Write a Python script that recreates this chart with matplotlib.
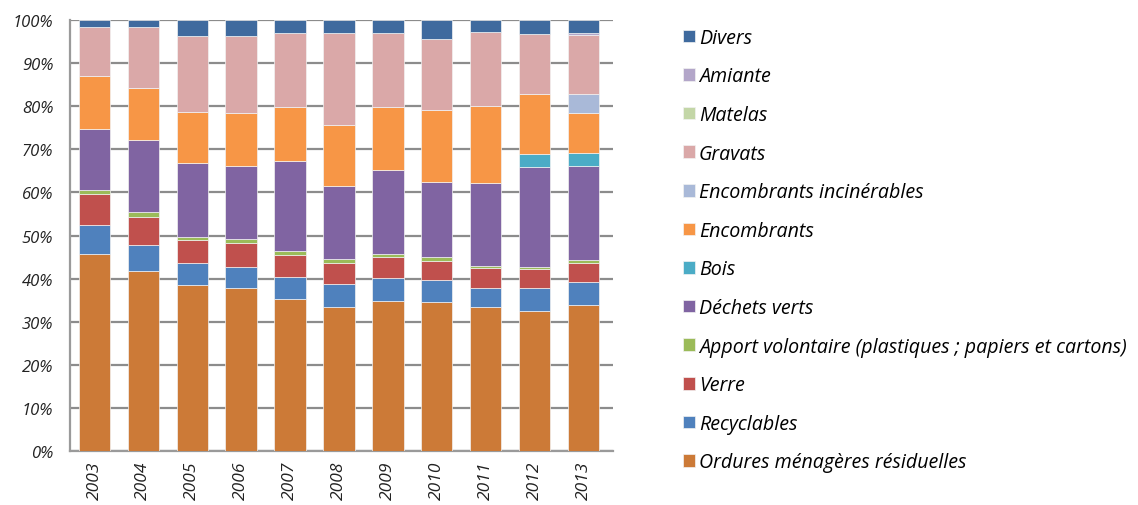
import matplotlib
matplotlib.use("Agg")
import matplotlib.pyplot as plt
import numpy as np

years = ["2003", "2004", "2005", "2006", "2007", "2008", "2009", "2010", "2011", "2012", "2013"]

# Share of each waste stream per year (%), bottom to top of the stack
ordures = [45.8, 41.8, 38.6, 37.9, 35.3, 33.4, 34.9, 34.6, 33.4, 32.4, 33.9]
recyclables = [6.7, 5.9, 5.1, 4.8, 5.1, 5.4, 5.2, 5.0, 4.5, 5.4, 5.4]
verre = [7.1, 6.5, 5.2, 5.6, 5.1, 4.8, 4.9, 4.5, 4.6, 4.4, 4.4]
apport_volontaire = [1.0, 1.2, 0.8, 0.8, 0.9, 0.9, 0.7, 0.9, 0.5, 0.5, 0.7]
dechets_verts = [14.0, 16.8, 17.2, 17.1, 20.8, 17.1, 19.4, 17.4, 19.1, 23.1, 21.7]
bois = [0, 0, 0, 0, 0, 0, 0, 0, 0, 3.1, 3.1]
encombrants = [12.5, 12.0, 11.8, 12.2, 12.7, 14.0, 14.8, 16.8, 18.0, 13.9, 9.3]
encombrants_incin = [0, 0, 0, 0, 0, 0, 0, 0, 0, 0, 4.3]
gravats = [11.3, 14.1, 17.5, 18.0, 17.1, 21.4, 17.1, 16.4, 17.0, 13.9, 13.8]
matelas = [0, 0, 0, 0, 0, 0, 0, 0, 0, 0, 0]
amiante = [0, 0, 0, 0, 0, 0, 0, 0, 0, 0, 0.3]
divers = [1.6, 1.7, 3.8, 3.6, 3.0, 3.0, 3.0, 4.4, 2.9, 3.3, 3.1]

series = [
    ("Ordures ménagères résiduelles", ordures, "#CC7A37"),
    ("Recyclables", recyclables, "#4F81BD"),
    ("Verre", verre, "#C0504D"),
    ("Apport volontaire (plastiques ; papiers et cartons)", apport_volontaire, "#9BBB59"),
    ("Déchets verts", dechets_verts, "#8064A2"),
    ("Bois", bois, "#4BACC6"),
    ("Encombrants", encombrants, "#F79646"),
    ("Encombrants incinérables", encombrants_incin, "#A9B9D8"),
    ("Gravats", gravats, "#DAA8A8"),
    ("Matelas", matelas, "#C3D6A7"),
    ("Amiante", amiante, "#B3A6C9"),
    ("Divers", divers, "#3F6A9E"),
]

plt.rcParams["font.family"] = ["Open Sans", "DejaVu Sans"]

fig = plt.figure(figsize=(11.38, 5.06), dpi=100)
ax = fig.add_axes([0.0615, 0.1067, 0.477, 0.8518])

x = np.arange(len(years))
bottom = np.zeros(len(years))
handles = []
for label, vals, color in series:
    vals = np.asarray(vals, dtype=float)
    b = ax.bar(x, vals, width=0.64, bottom=bottom, color=color,
               edgecolor="#f2f2f2", linewidth=0.5, label=label, zorder=3)
    handles.append(b)
    bottom += vals

ax.set_xlim(-0.5, len(years) - 0.4)
ax.set_ylim(0, 100)
ax.set_yticks(np.arange(0, 101, 10))
ax.set_yticklabels([f"{v}%" for v in range(0, 101, 10)], fontsize=12, style="italic")
ax.set_xticks(x)
ax.set_xticklabels(years, rotation=90, fontsize=12.5, style="italic")
ax.tick_params(axis="both", length=0, colors="#222222")
ax.tick_params(axis="y", pad=12)
ax.tick_params(axis="x", pad=7)

ax.grid(axis="y", color="#8c8c8c", linewidth=1.6, zorder=0)
for side in ("top", "right"):
    ax.spines[side].set_visible(False)
for side in ("left", "bottom"):
    ax.spines[side].set_color("#9a9a9a")
    ax.spines[side].set_linewidth(1.6)

leg = fig.legend(handles[::-1], [s[0] for s in series][::-1],
                 loc="upper left", bbox_to_anchor=(0.5845, 0.978),
                 frameon=False, handlelength=0.62, handleheight=0.62,
                 handletextpad=0.2, labelspacing=0.95,
                 prop={"size": 14.1, "style": "italic"})

fig.savefig("out.png", dpi=100)
